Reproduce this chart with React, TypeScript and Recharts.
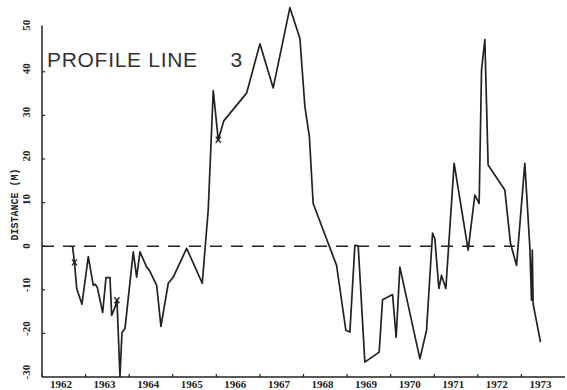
import {
  ComposedChart,
  Line,
  Scatter,
  XAxis,
  YAxis,
  ReferenceLine,
} from "recharts";

// profile line 3, distance (m) against time in years
const years = [
  1962.7, 1962.745, 1962.796, 1962.917, 1963.062, 1963.177, 1963.216, 1963.268,
  1963.392, 1963.468, 1963.56, 1963.599, 1963.674, 1963.72, 1963.766, 1963.789,
  1963.835, 1963.904, 1964.094, 1964.172, 1964.248, 1964.401, 1964.461, 1964.631,
  1964.729, 1964.897, 1965.011, 1965.319, 1965.677, 1965.814, 1965.929, 1966.044,
  1966.174, 1966.695, 1967.0, 1967.305, 1967.688, 1967.917, 1968.032, 1968.135,
  1968.222, 1968.759, 1968.972, 1969.064, 1969.179, 1969.255, 1969.408, 1969.736,
  1969.814, 1970.044, 1970.08, 1970.126, 1970.211, 1970.67, 1970.823, 1970.961,
  1971.014, 1971.106, 1971.167, 1971.266, 1971.456, 1971.778, 1971.931, 1972.03,
  1972.085, 1972.161, 1972.236, 1972.619, 1972.75, 1972.888, 1973.078, 1973.193,
  1973.232, 1973.25, 1973.268, 1973.438,
];
const distance = [
  0, -3.7, -9.7, -13.3, -2.4, -9.0, -8.7, -9.4,
  -15.2, -7.2, -7.2, -15.9, -14.0, -12.4, -23.9, -29.9,
  -19.8, -18.9, -1.3, -7.1, -1.3, -4.8, -5.5, -9.0,
  -18.4, -8.5, -7.1, -0.5, -8.5, 8.3, 35.7, 24.4,
  28.8, 35.1, 46.4, 36.3, 54.7, 47.7, 32.0, 25.1,
  9.8, -4.4, -19.3, -19.7, 0.2, 0.1, -26.6, -24.3,
  -12.3, -11.1, -15.5, -20.9, -4.8, -25.8, -19.3, 3.0,
  1.7, -9.7, -6.7, -9.7, 19.0, -0.9, 11.7, 9.8,
  40.5, 47.4, 18.6, 12.9, 0.6, -4.4, 19.0, -0.2,
  -12.4, -0.9, -13.2, -22.0,
];

// little "x" marks on the trace
const markYears = [1962.745, 1963.72, 1966.044];
const markDistance = [-3.7, -12.4, 24.4];

const yearTicks = [1962, 1963, 1964, 1965, 1966, 1967, 1968, 1969, 1970, 1971, 1972, 1973];
const distanceTicks = [-30, -20, -10, 0, 10, 20, 30, 40, 50];

const data = years.map((t, i) => ({ t, v: distance[i] }));
const marks = markYears.map((t, i) => ({ t, v: markDistance[i] }));

const ink = "#222";
const tickFont = { fontFamily: "Liberation Serif", fontWeight: 700, fontSize: 11, fill: ink };

function YearTick({ x, y, payload }: any) {
  return (
    <g>
      <line x1={x} y1={y} x2={x} y2={y - 3} stroke={ink} strokeWidth={1.2} />
      <text x={x + 19} y={y + 11} textAnchor="middle" {...tickFont}>
        {payload.value}
      </text>
    </g>
  );
}

function DistTick({ x, y, payload }: any) {
  const lx = x - 16;
  const ly = y + 2.5;
  return (
    <g>
      {payload.value > -30 && payload.value < 50 && (
        <line x1={x} y1={y} x2={x + 3} y2={y} stroke={ink} strokeWidth={1.2} />
      )}
      <text
        x={lx}
        y={ly}
        transform={`rotate(-90 ${lx} ${ly})`}
        textAnchor="start"
        dominantBaseline="central"
        {...tickFont}
      >
        {payload.value}
      </text>
    </g>
  );
}

function XMark({ cx, cy }: any) {
  return (
    <g stroke={ink} strokeWidth={1.3}>
      <line x1={cx - 2.5} y1={cy - 3} x2={cx + 2.5} y2={cy + 3} />
      <line x1={cx - 2.5} y1={cy + 3} x2={cx + 2.5} y2={cy - 3} />
    </g>
  );
}

export default function App() {
  return (
    <div style={{ position: "absolute", left: 0, top: 0, width: 567, height: 390, background: "#fff" }}>
      <ComposedChart width={567} height={390} margin={{ top: 2, right: 2, bottom: 0, left: 0 }}>
        <XAxis
          type="number"
          dataKey="t"
          domain={[1962, 1974]}
          ticks={yearTicks}
          interval={0}
          tickSize={0}
          tickMargin={0}
          tick={<YearTick />}
          height={13}
          stroke={ink}
          strokeWidth={1.5}
        />
        <YAxis
          type="number"
          dataKey="v"
          domain={[-30, 56]}
          ticks={distanceTicks}
          interval={0}
          tickSize={0}
          tickMargin={0}
          tick={<DistTick />}
          width={42}
          axisLine={false}
          label={{
            value: "DISTANCE (M)",
            angle: -90,
            position: "insideLeft",
            offset: 0,
            dx: 14,
            dy: 15,
            style: { fontFamily: "Liberation Mono", fontWeight: 700, fontSize: 10, fill: ink, textAnchor: "middle" },
          }}
        />
        <ReferenceLine
          segment={[{ x: 1962, y: -30 }, { x: 1962, y: 50.6 }]}
          stroke={ink}
          strokeWidth={1.5}
        />
        <ReferenceLine
          segment={[{ x: 1962, y: 0 }, { x: 1972.85, y: 0 }]}
          stroke={ink}
          strokeWidth={1.6}
          strokeDasharray="12 9"
        />
        <Line
          data={data}
          dataKey="v"
          type="linear"
          stroke={ink}
          strokeWidth={1.7}
          strokeLinejoin="round"
          dot={false}
          isAnimationActive={false}
        />
        <Scatter data={marks} dataKey="v" shape={<XMark />} isAnimationActive={false} />
      </ComposedChart>
      <div
        style={{
          position: "absolute",
          left: 47,
          top: 49,
          fontFamily: "Liberation Sans",
          fontSize: 21,
          lineHeight: "21px",
          letterSpacing: 0.7,
          color: "#333",
          whiteSpace: "pre",
        }}
      >
        {"PROFILE LINE     3"}
      </div>
    </div>
  );
}
